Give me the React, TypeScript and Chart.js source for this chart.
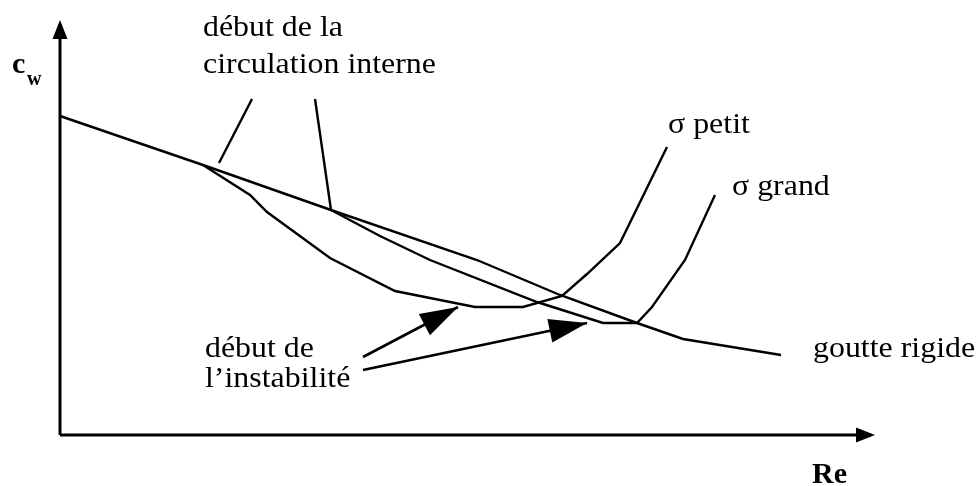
import { useEffect, useRef } from "react";
import { Chart, registerables } from "chart.js";

Chart.register(...registerables);

// Schematic drag coefficient c_w versus Reynolds number Re (arbitrary units).
// Origin of the frame is the corner of the two axes.
const reAxisEnd = 815;
const cwAxisEnd = 415;

// Rigid drop
const rigidRe = [0, 143, 271, 417, 500, 577, 623, 721];
const rigidCw = [319, 270, 225, 175, 140, 112, 96, 80];

// Small surface tension: internal circulation starts early
const smallSigmaRe = [143, 190, 207, 270, 335, 415, 463, 502, 527, 560, 607];
const smallSigmaCw = [270, 240, 223, 177, 144, 128, 128, 139, 161, 192, 288];

// Large surface tension
const largeSigmaRe = [271, 320, 370, 477, 543, 577, 592, 625, 655];
const largeSigmaCw = [225, 199, 175, 133, 112, 112, 128, 175, 240];

// Leader lines from the "début de la circulation interne" label
const leaderRe = [[192, 159], [255, 271]];
const leaderCw = [[336, 272], [336, 225]];

// Arrows from the "début de l'instabilité" label
const arrowRe = [[303, 398], [303, 527]];
const arrowCw = [[78, 128], [65, 112]];

type Label = { text: string; re: number; cw: number; bold?: boolean; size?: number; stretch?: number };
const labels: Label[] = [
  { text: "début de la", re: 143, cw: 399 },
  { text: "circulation interne", re: 143, cw: 362 },
  { text: "σ petit", re: 608, cw: 302 },
  { text: "σ grand", re: 672, cw: 240 },
  { text: "début de", re: 145, cw: 78 },
  { text: "l’instabilité", re: 145, cw: 48 },
  { text: "goutte rigide", re: 753, cw: 78 },
  { text: "Re", re: 752, cw: -48, bold: true, size: 30, stretch: 1 },
  { text: "c", re: -48, cw: 362, bold: true, size: 30, stretch: 1 },
  { text: "w", re: -33, cw: 350, bold: true, size: 20, stretch: 1 },
];

const FONT = "'Liberation Serif', 'Times New Roman', serif";

const pts = (xs: number[], ys: number[]) => xs.map((x, i) => ({ x, y: ys[i] }));

const curve = (data: { x: number; y: number }[], width = 2.4) => ({
  data,
  showLine: true,
  borderColor: "#000",
  borderWidth: width,
  pointRadius: 0,
  tension: 0,
  fill: false,
  borderJoinStyle: "miter" as const,
  borderCapStyle: "butt" as const,
});

function head(
  ctx: CanvasRenderingContext2D,
  fx: number, fy: number, tx: number, ty: number,
  len: number, half: number
) {
  const a = Math.atan2(ty - fy, tx - fx);
  const c = Math.cos(a), s = Math.sin(a);
  const bx = tx - c * len, by = ty - s * len;
  ctx.beginPath();
  ctx.moveTo(tx, ty);
  ctx.lineTo(bx - s * half, by + c * half);
  ctx.lineTo(bx + s * half, by - c * half);
  ctx.closePath();
  ctx.fill();
}

const annotate = {
  id: "annotate",
  afterDatasetsDraw(chart: any) {
    const { ctx, scales } = chart;
    const X = (v: number) => scales.x.getPixelForValue(v);
    const Y = (v: number) => scales.y.getPixelForValue(v);
    ctx.save();
    ctx.fillStyle = "#000";

    // axis arrowheads
    head(ctx, X(0), Y(0), X(0), Y(cwAxisEnd), 19, 7.5);
    head(ctx, X(0), Y(0), X(reAxisEnd), Y(0), 19, 7.5);

    // label arrows
    arrowRe.forEach((xs, i) => {
      const ys = arrowCw[i];
      head(ctx, X(xs[0]), Y(ys[0]), X(xs[1]), Y(ys[1]), 38, 12);
    });

    ctx.textBaseline = "alphabetic";
    ctx.textAlign = "left";
    labels.forEach((l) => {
      ctx.save();
      ctx.font = `${l.bold ? "bold " : ""}${l.size ?? 29}px ${FONT}`;
      ctx.translate(X(l.re), Y(l.cw));
      ctx.scale(l.stretch ?? 1.1, 1);
      ctx.fillText(l.text, 0, 0);
      ctx.restore();
    });
    ctx.restore();
  },
};

export default function App() {
  const ref = useRef<HTMLCanvasElement | null>(null);

  useEffect(() => {
    document.body.style.margin = "0";
    const canvas = ref.current;
    if (!canvas) return;
    const datasets: any[] = [
      curve(pts([0, 0], [0, cwAxisEnd - 4]), 3),
      curve(pts([0, reAxisEnd - 4], [0, 0]), 3),
      curve(pts(rigidRe, rigidCw)),
      curve(pts(smallSigmaRe, smallSigmaCw)),
      curve(pts(largeSigmaRe, largeSigmaCw)),
      ...leaderRe.map((xs, i) => curve(pts(xs, leaderCw[i]))),
      ...arrowRe.map((xs, i) => curve(pts(xs, arrowCw[i]), 2.6)),
    ];
    const chart = new Chart(canvas, {
      type: "scatter",
      data: { datasets },
      options: {
        animation: false,
        responsive: false,
        devicePixelRatio: 1,
        layout: { padding: 0 },
        plugins: { legend: { display: false }, tooltip: { enabled: false } },
        events: [],
        scales: {
          x: { type: "linear", min: -60, max: 918, display: false },
          y: { type: "linear", min: -51, max: 435, display: false },
        },
      },
      plugins: [annotate],
    });
    return () => chart.destroy();
  }, []);

  return (
    <div style={{ position: "absolute", left: 0, top: 0, width: 978, height: 486, background: "#fff" }}>
      <canvas ref={ref} width={978} height={486} />
    </div>
  );
}
